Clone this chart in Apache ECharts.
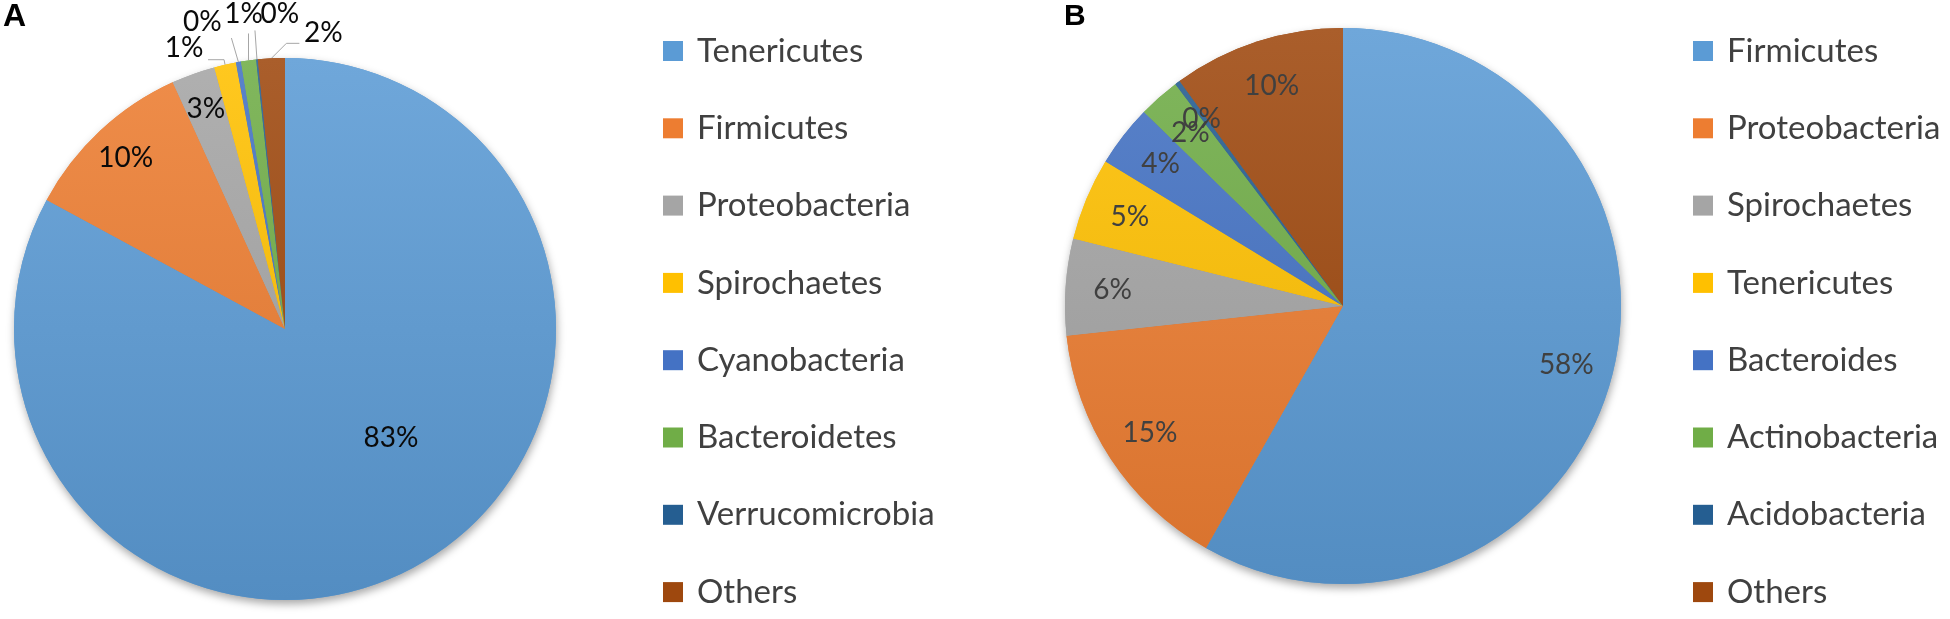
<!DOCTYPE html>
<html>
<head>
<meta charset="utf-8">
<script src="https://cdn.jsdelivr.net/npm/echarts@6/dist/echarts.min.js"></script>
<style>
html,body{margin:0;padding:0;background:#ffffff;}
#chart{width:1950px;height:619px;}
</style>
</head>
<body>
<div id="chart"></div>
<script>
// ---- data ----
const namesA = ['Tenericutes','Firmicutes','Proteobacteria','Spirochaetes','Cyanobacteria','Bacteroidetes','Verrucomicrobia','Others'];
const valuesA = [82.9, 10.3, 2.6, 1.3, 0.3, 0.9, 0.1, 1.6];
const namesB = ['Firmicutes','Proteobacteria','Spirochaetes','Tenericutes','Bacteroides','Actinobacteria','Acidobacteria','Others'];
const valuesB = [58.2, 15.1, 5.6, 4.8, 3.6, 2.4, 0.3, 10.0];
const panelLetters = ['A', 'B'];

// ---- style ----
const colors = ['#5B9BD5','#ED7D31','#A5A5A5','#FFC000','#4472C4','#70AD47','#255E91','#9E480E'];
const geoA = {cx: 285, cy: 329, r: 271};
const geoB = {cx: 1343, cy: 306, r: 278};
const FONT = 'Lato, "Open Sans", sans-serif';

function shade(hex, amt) {
  const n = parseInt(hex.slice(1), 16);
  let c = [(n >> 16) & 255, (n >> 8) & 255, n & 255];
  c = c.map(v => amt >= 0 ? Math.round(v + (255 - v) * amt) : Math.round(v * (1 + amt)));
  return 'rgb(' + c.join(',') + ')';
}
function grad(hex, g) {
  return new echarts.graphic.LinearGradient(0, g.cy - g.r, 0, g.cy + g.r, [
    {offset: 0, color: shade(hex, 0.12)},
    {offset: 1, color: shade(hex, -0.09)}
  ], true);
}
const pctFmt = p => Math.round(p.percent) + '%';

// outside label placement for the tiny slices (offsets from the rim point)
const outsideA = {
  3: {label: [-41, -17], line: [[-1, -5], [-17, -5]]},
  4: {label: [-36, -40], line: [[-7, -24], [-7, -24]]},
  5: {label: [-5, -47], line: [[0, -27], [0, -27]]},
  6: {label: [23, -45], line: [[-2, -29], [-2, -29]]},
  7: {label: [52, -25], line: [[15, -15], [28, -15]]}
};
const outsideB = {
  6: {label: [24, 36], line: [[0, 0], [0, 0]]}
};

function placeOutside(table) {
  return function (p) {
    const o = table[p.dataIndex];
    if (o && p.labelLinePoints) {
      const r0 = p.labelLinePoints[0];
      return {
        x: r0[0] + o.label[0], y: r0[1] + o.label[1],
        align: 'center', verticalAlign: 'middle',
        labelLinePoints: [
          [r0[0], r0[1]],
          [r0[0] + o.line[0][0], r0[1] + o.line[0][1]],
          [r0[0] + o.line[1][0], r0[1] + o.line[1][1]]
        ]
      };
    }
  };
}

function baseSeries(g) {
  return {
    type: 'pie',
    center: [g.cx, g.cy],
    radius: [0, g.r],
    startAngle: 90,
    clockwise: true,
    avoidLabelOverlap: false,
    silent: true,
    animation: false,
    itemStyle: {borderWidth: 0}
  };
}

function buildPie(names, values, g, opts) {
  const main = Object.assign(baseSeries(g), {
    z: 3,
    data: names.map((n, i) => ({
      name: n, value: values[i],
      itemStyle: {color: grad(colors[i], g), borderWidth: 0},
      label: opts.mainLabel(i),
      labelLine: opts.mainLine(i)
    })),
    label: {fontFamily: FONT, fontSize: 28, color: opts.labelColor, formatter: pctFmt},
    labelLine: {lineStyle: {color: opts.lineColor, width: 1}},
    labelLayout: opts.layout
  });
  const shadow = Object.assign(baseSeries(g), {
    z: 1,
    data: names.map((n, i) => ({name: n, value: values[i], itemStyle: {color: colors[i]}})),
    label: {show: false}, labelLine: {show: false},
    itemStyle: {shadowBlur: 9, shadowOffsetY: 4, shadowOffsetX: 1, shadowColor: 'rgba(0,0,0,0.35)', borderWidth: 0}
  });
  const overlay = Object.assign(baseSeries(g), {
    z: 4,
    radius: [g.r * opts.labelRadius * 2 - g.r, g.r],
    data: names.map((n, i) => ({name: n, value: values[i], label: {show: opts.overlayShow(i)}})),
    itemStyle: {color: 'rgba(0,0,0,0)', borderWidth: 0},
    label: {show: true, position: 'inside', fontFamily: FONT, fontSize: 28, color: opts.labelColor, formatter: pctFmt},
    labelLine: {show: false}
  });
  return [main, shadow, overlay];
}

const layoutA = placeOutside(outsideA);
const seriesA = buildPie(namesA, valuesA, geoA, {
  labelColor: '#0a0a0a',
  lineColor: '#a6a6a6',
  labelRadius: 0.85,
  overlayShow: i => i === 1 || i === 2,
  mainLabel: i => i === 0 ? {show: true, position: 'inside'} : (outsideA[i] ? {show: true, position: 'outside'} : {show: false}),
  mainLine: i => ({show: !!outsideA[i], length: 10, length2: 10}),
  layout: function (p) {
    if (p.dataIndex === 0) return {dx: 35, dy: -10};
    return layoutA(p);
  }
});

const seriesB = buildPie(namesB, valuesB, geoB, {
  labelColor: '#404040',
  lineColor: 'rgba(0,0,0,0)',
  labelRadius: 0.82,
  overlayShow: i => !outsideB[i],
  mainLabel: i => (outsideB[i] ? {show: true, position: 'outside'} : {show: false}),
  mainLine: i => ({show: !!outsideB[i], length: 10, length2: 10}),
  layout: placeOutside(outsideB)
});

function legendFor(names, left) {
  return {
    orient: 'vertical',
    left: left,
    top: 34,
    height: 590,
    padding: 0,
    icon: 'rect',
    itemWidth: 20,
    itemHeight: 20,
    itemGap: 43.3,
    selectedMode: false,
    data: names.map((n, i) => ({name: n, itemStyle: {color: colors[i]}})),
    textStyle: {fontFamily: FONT, fontSize: 33, lineHeight: 34, color: '#404040', padding: [0, 0, 0, 9]}
  };
}

const chart = echarts.init(document.getElementById('chart'), null, {renderer: 'canvas'});
chart.setOption({
  backgroundColor: '#ffffff',
  animation: false,
  legend: [legendFor(namesA, 663), legendFor(namesB, 1693)],
  graphic: [
    {type: 'text', left: 3, top: 1, style: {text: panelLetters[0], font: 'bold 32px "Liberation Sans", Arial, sans-serif', fill: '#000'}},
    {type: 'text', left: 1064, top: 2, style: {text: panelLetters[1], font: 'bold 30px "Liberation Sans", Arial, sans-serif', fill: '#000'}}
  ],
  series: seriesA.concat(seriesB)
});
</script>
</body>
</html>
